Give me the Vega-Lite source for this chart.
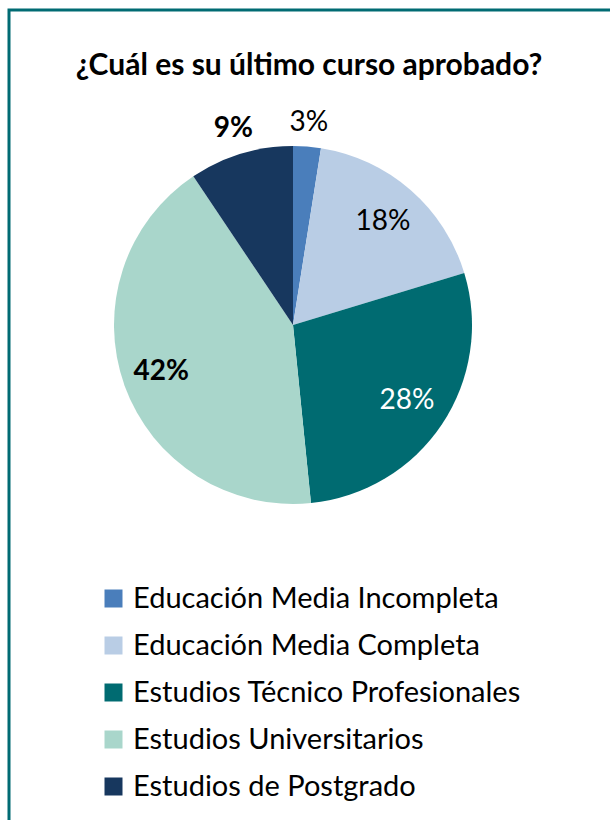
{
  "$schema": "https://vega.github.io/schema/vega-lite/v6.json",
  "width": 640,
  "height": 850,
  "autosize": {"type": "none"},
  "padding": {"left": 9, "top": 10, "right": 0, "bottom": 0},
  "background": "white",
  "view": {"stroke": "#006B73", "strokeWidth": 3},
  "title": {
    "text": "¿Cuál es su último curso aprobado?",
    "font": "Lato",
    "fontSize": 30,
    "fontWeight": "bold",
    "color": "black",
    "anchor": "middle",
    "dx": -20,
    "offset": -95,
    "baseline": "alphabetic"
  },
  "config": {
    "view": {"stroke": "#006B73", "strokeWidth": 3}
  },
  "data": {
    "values": [
      {"orden": 1, "nivel": "Educación Media Incompleta", "pct": 2.5, "etiqueta": "3%"},
      {"orden": 2, "nivel": "Educación Media Completa", "pct": 17.8, "etiqueta": "18%"},
      {"orden": 3, "nivel": "Estudios Técnico Profesionales", "pct": 28.1, "etiqueta": "28%"},
      {"orden": 4, "nivel": "Estudios Universitarios", "pct": 42.2, "etiqueta": "42%"},
      {"orden": 5, "nivel": "Estudios de Postgrado", "pct": 9.4, "etiqueta": "9%"}
    ]
  },
  "encoding": {
    "theta": {"field": "pct", "type": "quantitative", "stack": true},
    "order": {"field": "orden", "type": "quantitative"}
  },
  "layer": [
    {
      "mark": {"type": "arc", "outerRadius": 179, "x": 284, "y": 315},
      "encoding": {
        "color": {
          "field": "nivel",
          "type": "nominal",
          "scale": {
            "domain": ["Educación Media Incompleta", "Educación Media Completa", "Estudios Técnico Profesionales", "Estudios Universitarios", "Estudios de Postgrado"],
            "range": ["#4A7EBB", "#B9CDE5", "#006B71", "#A9D6CB", "#17375E"]
          },
          "legend": {
            "orient": "none",
            "legendX": 90,
            "legendY": 574,
            "direction": "vertical",
            "title": null,
            "symbolType": "square",
            "symbolSize": 324,
            "symbolStrokeWidth": 0,
            "labelFont": "Lato",
            "labelFontSize": 29,
            "labelColor": "black",
            "rowPadding": 17,
            "labelOffset": 5,
            "labelLimit": 0
          }
        }
      }
    },
    {
      "mark": {"type": "text", "x": 284, "y": 315, "radius": 137, "font": "Lato", "fontSize": 28},
      "encoding": {
        "text": {"condition": {"test": "datum.orden == 2 || datum.orden == 3", "field": "etiqueta"}, "value": ""},
        "color": {"condition": {"test": "datum.orden == 3", "value": "white"}, "value": "black"}
      }
    },
    {
      "mark": {"type": "text", "x": 284, "y": 315, "radius": 203, "font": "Lato", "fontSize": 28, "color": "black"},
      "encoding": {
        "text": {"condition": {"test": "datum.orden == 1", "field": "etiqueta"}, "value": ""}
      }
    },
    {
      "mark": {"type": "text", "x": 284, "y": 315, "radius": 140, "font": "Lato", "fontSize": 28, "fontWeight": "bold", "color": "black"},
      "encoding": {
        "text": {"condition": {"test": "datum.orden == 4", "field": "etiqueta"}, "value": ""}
      }
    },
    {
      "mark": {"type": "text", "x": 284, "y": 315, "radius": 205, "font": "Lato", "fontSize": 28, "fontWeight": "bold", "color": "black"},
      "encoding": {
        "text": {"condition": {"test": "datum.orden == 5", "field": "etiqueta"}, "value": ""}
      }
    }
  ]
}
